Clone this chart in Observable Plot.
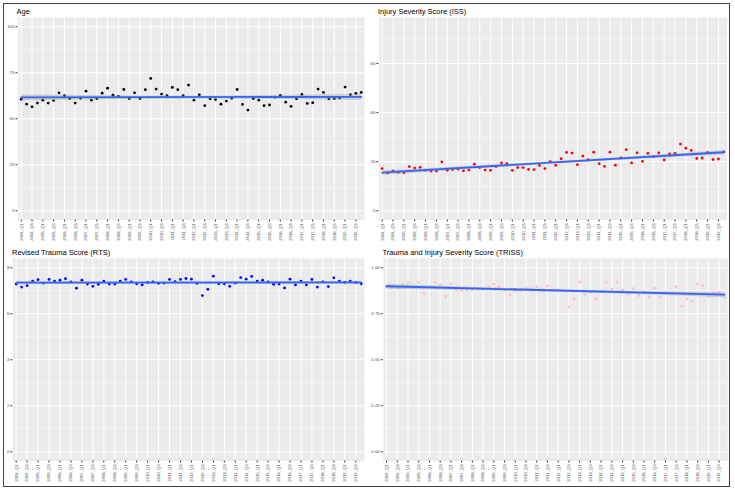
<!DOCTYPE html>
<html>
<head>
<meta charset="utf-8">
<script src="https://cdn.jsdelivr.net/npm/d3@7"></script>
<script src="https://cdn.jsdelivr.net/npm/@observablehq/plot@0.6"></script>
<style>
  html, body { margin: 0; padding: 0; background: #fff; }
  #root { position: relative; width: 735px; height: 493px; overflow: hidden; font-family: "Liberation Sans", Arial, sans-serif; }
  #border { position: absolute; left: 3px; top: 3px; width: 727px; height: 484px; border: 1px solid #444; box-sizing: border-box; }
  .cell { position: absolute; }
  .cell svg { overflow: visible; }
  .title { position: absolute; font-size: 7.5px; color: #000; white-space: nowrap; line-height: 1; }
</style>
</head>
<body>
<div id="root"><div id="border"></div></div>
<script>
const quarters = [
  "2004_Q1","2004_Q2","2004_Q3","2004_Q4","2005_Q1","2005_Q2","2005_Q3","2005_Q4",
  "2006_Q1","2006_Q2","2006_Q3","2006_Q4","2007_Q1","2007_Q2","2007_Q3","2007_Q4",
  "2008_Q1","2008_Q2","2008_Q3","2008_Q4","2009_Q1","2009_Q2","2009_Q3","2009_Q4",
  "2010_Q1","2010_Q2","2010_Q3","2010_Q4","2011_Q1","2011_Q2","2011_Q3","2011_Q4",
  "2012_Q1","2012_Q2","2012_Q3","2012_Q4","2013_Q1","2013_Q2","2013_Q3","2013_Q4",
  "2014_Q1","2014_Q2","2014_Q3","2014_Q4","2015_Q1","2015_Q2","2015_Q3","2015_Q4",
  "2016_Q1","2016_Q2","2016_Q3","2016_Q4","2017_Q1","2017_Q2","2017_Q3","2017_Q4",
  "2018_Q1","2018_Q2","2018_Q3","2018_Q4","2019_Q1","2019_Q2","2019_Q3","2019_Q4"
];
const quarterTicks = ["2004_Q1","2004_Q3","2005_Q1","2005_Q3","2006_Q1","2006_Q3","2007_Q1","2007_Q3",
  "2008_Q1","2008_Q3","2009_Q1","2009_Q3","2010_Q1","2010_Q3","2011_Q1","2011_Q3",
  "2012_Q1","2012_Q3","2013_Q1","2013_Q3","2014_Q1","2014_Q3","2015_Q1","2015_Q3",
  "2016_Q1","2016_Q3","2017_Q1","2017_Q3","2018_Q1","2018_Q3","2019_Q1","2019_Q3"];

const ageValues = [60.6,57.9,56.5,58.5,60.1,58.5,59.9,64.1,62.5,61.0,58.5,61.2,65.0,60.1,61.0,63.9,
  66.6,62.8,62.1,65.9,61.0,64.1,61.0,65.8,71.9,66.1,63.4,62.5,67.0,65.8,62.5,68.3,
  60.1,63.0,57.1,60.8,60.4,57.9,59.6,61.2,65.9,57.8,54.7,61.0,60.1,57.1,57.5,61.7,
  62.7,59.0,56.7,60.8,63.2,58.3,58.7,66.1,64.3,60.8,61.0,61.3,67.2,63.1,63.8,64.3];
const issValues = [17.2,15.4,16.3,15.7,15.5,18.0,17.4,17.7,16.5,16.2,16.2,19.9,16.5,16.8,17.0,16.3,
  16.6,19.0,17.6,16.6,16.5,18.0,19.5,19.2,16.5,17.6,17.6,16.9,16.8,18.5,17.2,20.0,
  18.5,21.2,23.8,23.5,18.8,22.3,20.8,23.9,19.2,18.1,23.9,18.6,21.6,24.9,19.5,23.6,
  20.1,23.4,22.0,23.6,20.7,23.2,23.4,27.2,25.5,24.6,21.3,21.5,23.8,20.9,21.1,24.0];
const rtsValues = [7.29,7.16,7.22,7.42,7.48,7.33,7.49,7.42,7.46,7.52,7.38,7.11,7.46,7.29,7.19,7.28,
  7.42,7.29,7.29,7.42,7.49,7.38,7.30,7.25,7.36,7.38,7.32,7.33,7.49,7.39,7.49,7.53,
  7.50,7.32,6.79,7.06,7.63,7.30,7.30,7.19,7.33,7.57,7.50,7.62,7.42,7.46,7.38,7.28,
  7.29,7.12,7.50,7.25,7.42,7.25,7.49,7.16,7.38,7.18,7.56,7.42,7.36,7.42,7.35,7.30];
const trissValues = [0.896,0.893,0.889,0.911,0.920,0.893,0.920,0.861,0.896,0.920,0.907,0.845,0.914,0.880,0.875,0.879,
  0.879,0.884,0.884,0.896,0.911,0.896,0.875,0.854,0.875,0.875,0.889,0.889,0.898,0.879,0.900,0.879,
  0.879,0.875,0.786,0.830,0.923,0.857,0.866,0.830,0.870,0.920,0.884,0.923,0.879,0.857,0.886,0.848,
  0.870,0.839,0.889,0.839,0.861,0.861,0.898,0.791,0.830,0.818,0.911,0.902,0.843,0.864,0.866,0.836];

const panels = [
  {title: "Age", values: ageValues, color: "#000000", left: 0, top: 0, width: 367,
   mL: 17.5, mR: 3, yDomain: [-5, 105], yTicks: [0, 25, 50, 75, 100], yMinor: [12.5, 37.5, 62.5, 87.5],
   fmt: d => String(d), titleX: 16.5},
  {title: "Injury Severity Score (ISS)", values: issValues, color: "#FF0000", left: 367, top: 0, width: 368,
   mL: 11.4, mR: 8.4, yDomain: [-3.75, 78.75], yTicks: [0, 20, 40, 60], yMinor: [10, 30, 50, 70],
   fmt: d => String(d), titleX: 11},
  {title: "Revised Trauma Score (RTS)", values: rtsValues, color: "#0000FF", left: 0, top: 241, width: 367,
   mL: 12.4, mR: 3, yDomain: [-0.4, 8.4], yTicks: [0, 2, 4, 6, 8], yMinor: [1, 3, 5, 7],
   fmt: d => String(d), titleX: 12},
  {title: "Trauma and Injury Severity Score (TRISS)", values: trissValues, color: "#FFC0CB", left: 367, top: 241, width: 368,
   mL: 15.8, mR: 7.8, yDomain: [-0.05, 1.05], yTicks: [0, 0.25, 0.5, 0.75, 1], yMinor: [0.125, 0.375, 0.625, 0.875],
   fmt: d => d.toFixed(2), titleX: 15.5}
];

const root = document.getElementById("root");
const tickIdx = quarterTicks.map(q => quarters.indexOf(q));

for (const p of panels) {
  const data = p.values.map((v, i) => ({i, q: quarters[i], v}));
  const H = 252;
  const chart = Plot.plot({
    width: p.width, height: H,
    marginLeft: p.mL, marginRight: p.mR, marginTop: 17, marginBottom: 32.5,
    style: {fontFamily: "Liberation Sans, Arial, sans-serif", background: "transparent", overflow: "visible"},
    x: {type: "linear", domain: [-0.6, quarters.length - 0.4]},
    y: {domain: p.yDomain},
    marks: [
      Plot.frame({fill: "#EBEBEB", stroke: null}),
      Plot.gridY(p.yMinor, {stroke: "#FFFFFF", strokeOpacity: 1, strokeWidth: 0.5}),
      Plot.gridY(p.yTicks, {stroke: "#FFFFFF", strokeOpacity: 1, strokeWidth: 1}),
      Plot.gridX(tickIdx, {stroke: "#FFFFFF", strokeOpacity: 1, strokeWidth: 1}),
      Plot.axisY(p.yTicks, {tickSize: 2, tickPadding: 1.5, fontSize: 4.4, color: "#4D4D4D", stroke: "#333333", tickFormat: p.fmt, label: null}),
      Plot.axisX(tickIdx, {tickSize: 2, tickPadding: 1.5, fontSize: 4.2, color: "#4D4D4D", stroke: "#333333",
        tickRotate: -90, tickFormat: i => quarters[i], label: null}),
      Plot.dot(data, {x: "i", y: "v", r: 1.4, fill: p.color, stroke: null}),
      Plot.linearRegressionY(data, {x: "i", y: "v", stroke: "#3366FF", strokeWidth: 1.8, fill: "#999999", fillOpacity: 0.4})
    ]
  });
  const cell = document.createElement("div");
  cell.className = "cell";
  cell.style.left = p.left + "px";
  cell.style.top = p.top + "px";
  cell.appendChild(chart);
  root.appendChild(cell);
  const t = document.createElement("div");
  t.className = "title";
  t.textContent = p.title;
  t.style.left = (p.left + p.titleX) + "px";
  t.style.top = (p.top + 8) + "px";
  root.appendChild(t);
}
</script>
</body>
</html>
